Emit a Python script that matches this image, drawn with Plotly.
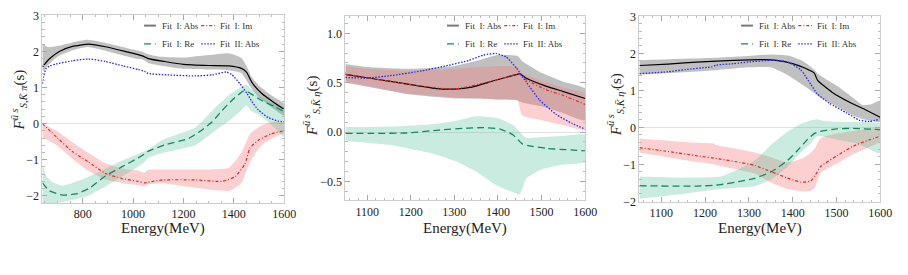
import plotly.graph_objects as go

FONT = "Liberation Serif"

# ---------------- Panel 1 : K pi ----------------
p1_abs_E = [640, 667, 707, 759, 824, 890, 968, 1040, 1060, 1125, 1200, 1300, 1380, 1430, 1451, 1471, 1510, 1562, 1600]
p1_abs = [1.57, 1.79, 2.0, 2.14, 2.2, 2.13, 2.0, 1.87, 1.80, 1.72, 1.64, 1.61, 1.60, 1.53, 1.42, 1.15, 0.84, 0.57, 0.39]
p1_absband_E = [640, 645, 660, 700, 760, 820, 900, 1000, 1040, 1060, 1100, 1200, 1300, 1380, 1430, 1450, 1470, 1500, 1550, 1600]
p1_absband_hi = [2.2, 2.2, 2.12, 2.15, 2.25, 2.32, 2.22, 2.05, 1.98, 1.92, 1.86, 1.83, 1.90, 1.95, 1.82, 1.6, 1.3, 1.05, 0.78, 0.55]
p1_absband_lo = [1.5, 1.45, 1.6, 1.85, 2.03, 2.12, 2.0, 1.82, 1.77, 1.68, 1.62, 1.52, 1.5, 1.48, 1.4, 1.2, 0.98, 0.72, 0.45, 0.22]

p1_abs2_E = [640, 645, 654, 670, 693, 759, 824, 890, 960, 1020, 1045, 1059, 1137, 1248, 1314, 1370, 1392, 1425, 1451, 1471, 1497, 1536, 1575, 1600]
p1_abs2 = [1.1, 1.3, 1.52, 1.6, 1.65, 1.74, 1.79, 1.72, 1.6, 1.5, 1.45, 1.39, 1.35, 1.32, 1.35, 1.43, 1.36, 1.1, 0.85, 0.62, 0.38, 0.17, 0.07, 0.05]

p1_re_E = [640, 667, 720, 772, 824, 890, 955, 1020, 1045, 1059, 1125, 1221, 1275, 1314, 1353, 1392, 1438, 1455, 1510, 1560, 1600]
p1_re = [-1.64, -1.86, -1.98, -1.95, -1.8, -1.45, -1.2, -0.95, -0.84, -0.77, -0.59, -0.41, -0.17, 0.05, 0.36, 0.64, 0.90, 0.88, 0.64, 0.48, 0.33]
p1_reband_E = [640, 655, 680, 720, 824, 955, 1040, 1060, 1118, 1249, 1327, 1379, 1431, 1450, 1470, 1510, 1560, 1600]
p1_reband_hi = [-1.1, -1.45, -1.62, -1.72, -1.47, -1.03, -0.78, -0.72, -0.45, -0.1, 0.45, 0.78, 1.02, 1.08, 0.95, 0.75, 0.55, 0.47]
p1_reband_lo = [-2.3, -2.28, -2.22, -2.17, -1.99, -1.47, -1.10, -0.95, -0.81, -0.59, -0.19, 0.07, 0.38, 0.5, 0.35, 0.2, -0.1, -0.37]

p1_im_E = [640, 700, 760, 820, 890, 955, 1020, 1046, 1085, 1118, 1248, 1353, 1405, 1444, 1464, 1497, 1549, 1600]
p1_im = [0.0, -0.4, -0.78, -1.05, -1.38, -1.52, -1.6, -1.64, -1.59, -1.56, -1.56, -1.60, -1.47, -1.12, -0.68, -0.46, -0.28, -0.2]
p1_imband_E = [640, 700, 760, 820, 890, 960, 1020, 1046, 1060, 1120, 1250, 1380, 1430, 1465, 1510, 1560, 1600]
p1_imband_hi = [0.0, -0.22, -0.52, -0.8, -1.1, -1.25, -1.3, -1.36, -1.28, -1.27, -1.27, -1.22, -0.8, -0.28, -0.05, 0.05, 0.0]
p1_imband_lo = [-0.38, -0.62, -0.98, -1.3, -1.55, -1.65, -1.7, -1.74, -1.68, -1.66, -1.78, -1.86, -1.65, -1.05, -0.6, -0.38, -0.25]

# ---------------- Panel 2 : K eta ----------------
p2_abs_E = [1050, 1100, 1150, 1200, 1260, 1300, 1340, 1390, 1420, 1450, 1465, 1510, 1550, 1600]
p2_abs = [0.585, 0.55, 0.515, 0.48, 0.44, 0.435, 0.455, 0.52, 0.555, 0.59, 0.545, 0.465, 0.41, 0.34]
p2_absband_E = [1050, 1100, 1200, 1300, 1350, 1400, 1445, 1455, 1500, 1550, 1600]
p2_absband_hi = [0.69, 0.66, 0.64, 0.67, 0.72, 0.78, 0.77, 0.72, 0.60, 0.51, 0.44]
p2_absband_lo = [0.50, 0.46, 0.38, 0.34, 0.34, 0.33, 0.32, 0.30, 0.26, 0.19, 0.12]

p2_abs2_E = [1050, 1098, 1151, 1226, 1280, 1333, 1367, 1395, 1419, 1442, 1465, 1495, 1533, 1571, 1600]
p2_abs2 = [0.553, 0.547, 0.57, 0.62, 0.67, 0.725, 0.78, 0.796, 0.76, 0.65, 0.505, 0.327, 0.18, 0.085, 0.03]

p2_re_E = [1050, 1114, 1190, 1265, 1333, 1367, 1405, 1435, 1456, 1472, 1510, 1600]
p2_re = [-0.013, -0.013, -0.01, 0.02, 0.04, 0.045, 0.03, -0.03, -0.12, -0.14, -0.165, -0.19]
p2_reband_E = [1050, 1150, 1250, 1300, 1350, 1400, 1435, 1450, 1465, 1500, 1550, 1600]
p2_reband_hi = [0.05, 0.055, 0.08, 0.11, 0.16, 0.14, 0.07, 0.0, -0.06, -0.05, -0.04, -0.03]
p2_reband_lo = [-0.09, -0.13, -0.22, -0.29, -0.40, -0.55, -0.61, -0.63, -0.47, -0.38, -0.33, -0.30]

p2_im_E = [1050, 1100, 1200, 1300, 1390, 1450, 1465, 1510, 1550, 1600]
p2_im = [0.585, 0.55, 0.48, 0.435, 0.52, 0.585, 0.53, 0.43, 0.37, 0.28]
p2_imband_E = [1050, 1100, 1200, 1300, 1400, 1445, 1455, 1500, 1550, 1600]
p2_imband_hi = [0.67, 0.64, 0.62, 0.64, 0.67, 0.66, 0.60, 0.52, 0.45, 0.38]
p2_imband_lo = [0.52, 0.47, 0.39, 0.35, 0.33, 0.32, 0.17, 0.12, 0.07, 0.02]

# ---------------- Panel 3 : K eta' ----------------
p3_abs_E = [1050, 1115, 1190, 1265, 1325, 1363, 1400, 1430, 1449, 1457, 1490, 1528, 1565, 1600]
p3_abs = [1.67, 1.71, 1.77, 1.81, 1.83, 1.81, 1.72, 1.59, 1.47, 1.27, 0.95, 0.69, 0.48, 0.27]
p3_absband_E = [1050, 1200, 1300, 1350, 1390, 1425, 1450, 1460, 1500, 1540, 1560, 1580, 1600]
p3_absband_hi = [1.81, 1.87, 1.93, 1.97, 1.94, 1.78, 1.55, 1.42, 1.13, 0.78, 0.6, 0.62, 0.72]
p3_absband_lo = [1.42, 1.52, 1.62, 1.62, 1.4, 1.13, 0.92, 0.82, 0.57, 0.31, 0.22, 0.18, 0.15]

p3_abs2_E = [1050, 1115, 1155, 1205, 1215, 1225, 1265, 1302, 1355, 1388, 1418, 1441, 1456, 1484, 1523, 1553, 1575, 1600]
p3_abs2 = [1.45, 1.50, 1.56, 1.62, 1.63, 1.68, 1.72, 1.77, 1.81, 1.77, 1.56, 1.17, 0.91, 0.65, 0.39, 0.19, 0.16, 0.22]

p3_re_E = [1050, 1182, 1235, 1280, 1313, 1351, 1388, 1410, 1433, 1449, 1463, 1501, 1538, 1600]
p3_re = [-1.58, -1.59, -1.55, -1.46, -1.38, -1.2, -0.9, -0.64, -0.34, -0.17, -0.11, -0.04, -0.03, -0.06]
p3_reband_E = [1050, 1150, 1235, 1280, 1313, 1351, 1388, 1418, 1440, 1455, 1470, 1500, 1550, 1600]
p3_reband_hi = [-1.33, -1.36, -1.33, -1.11, -0.90, -0.47, -0.12, 0.09, 0.18, 0.22, 0.18, 0.15, 0.14, 0.10]
p3_reband_lo = [-1.93, -1.80, -1.67, -1.63, -1.59, -1.41, -1.07, -0.68, -0.45, -0.25, -0.25, -0.33, -0.45, -0.70]

p3_im_E = [1050, 1107, 1182, 1235, 1280, 1313, 1351, 1388, 1418, 1441, 1452, 1463, 1501, 1538, 1575, 1600]
p3_im = [-0.55, -0.64, -0.77, -0.86, -0.95, -1.03, -1.2, -1.37, -1.48, -1.45, -1.29, -1.07, -0.77, -0.51, -0.34, -0.24]
p3_imband_E = [1050, 1182, 1219, 1225, 1280, 1313, 1351, 1388, 1420, 1440, 1452, 1463, 1501, 1538, 1600]
p3_imband_hi = [-0.30, -0.42, -0.44, -0.48, -0.60, -0.68, -0.81, -0.95, -0.85, -0.7, -0.55, -0.30, -0.17, -0.10, -0.04]
p3_imband_lo = [-0.68, -0.94, -1.0, -1.02, -1.16, -1.25, -1.50, -1.67, -1.73, -1.72, -1.59, -1.24, -0.98, -0.73, -0.38]

legend_labels = ["Fit  I: Abs", "Fit  I: Im", "Fit  I: Re", "Fit  II: Abs"]
y_titles = [
    "<i>F</i><sup><i>ū s</i></sup><sub><i>S</i>,<i>K̄ π</i></sub>(s)",
    "<i>F</i><sup><i>ū s</i></sup><sub><i>S</i>,<i>K̄ η</i></sub>(s)",
    "<i>F</i><sup><i>ū s</i></sup><sub><i>S</i>,<i>K̄ η′</i></sub>(s)",
]

GRAY_FILL = "rgba(140,140,140,0.55)"
RED_FILL = "rgba(245,120,120,0.35)"
GREEN_FILL = "rgba(80,190,150,0.30)"
C_BLACK = "#000000"
C_RED = "rgb(230,40,40)"
C_GREEN = "rgb(20,135,95)"
C_BLUE = "rgb(40,40,235)"
D_RE = "7px,4px"
D_IM = "3px,2px,1px,2px"
D_ABS2 = "1.5px,1.5px"

fig = go.Figure()


def band(E, lo, hi, color, xa, ya):
    fig.add_trace(go.Scatter(
        x=list(E) + list(E)[::-1], y=list(hi) + list(lo)[::-1],
        fill="toself", fillcolor=color, mode="lines",
        line=dict(width=0, shape="spline", smoothing=0.5),
        hoverinfo="skip", showlegend=False, xaxis=xa, yaxis=ya))


def curve(E, v, color, dash, width, xa, ya):
    fig.add_trace(go.Scatter(
        x=E, y=v, mode="lines",
        line=dict(color=color, dash=dash, width=width, shape="spline", smoothing=0.5),
        showlegend=False, xaxis=xa, yaxis=ya))


panels = [
    dict(xa="x", ya="y",
         absb=(p1_absband_E, p1_absband_lo, p1_absband_hi),
         imb=(p1_imband_E, p1_imband_lo, p1_imband_hi),
         reb=(p1_reband_E, p1_reband_lo, p1_reband_hi),
         abs=(p1_abs_E, p1_abs), im=(p1_im_E, p1_im), re=(p1_re_E, p1_re), abs2=(p1_abs2_E, p1_abs2)),
    dict(xa="x2", ya="y2",
         absb=(p2_absband_E, p2_absband_lo, p2_absband_hi),
         imb=(p2_imband_E, p2_imband_lo, p2_imband_hi),
         reb=(p2_reband_E, p2_reband_lo, p2_reband_hi),
         abs=(p2_abs_E, p2_abs), im=(p2_im_E, p2_im), re=(p2_re_E, p2_re), abs2=(p2_abs2_E, p2_abs2)),
    dict(xa="x3", ya="y3",
         absb=(p3_absband_E, p3_absband_lo, p3_absband_hi),
         imb=(p3_imband_E, p3_imband_lo, p3_imband_hi),
         reb=(p3_reband_E, p3_reband_lo, p3_reband_hi),
         abs=(p3_abs_E, p3_abs), im=(p3_im_E, p3_im), re=(p3_re_E, p3_re), abs2=(p3_abs2_E, p3_abs2)),
]

for p in panels:
    xa, ya = p["xa"], p["ya"]
    band(*p["absb"], GRAY_FILL, xa, ya)
    band(*p["imb"], RED_FILL, xa, ya)
    band(*p["reb"], GREEN_FILL, xa, ya)
    curve(*p["abs"], C_BLACK, "solid", 1.2, xa, ya)
    curve(*p["re"], C_GREEN, D_RE, 1.3, xa, ya)
    curve(*p["im"], C_RED, D_IM, 1.2, xa, ya)
    curve(*p["abs2"], C_BLUE, D_ABS2, 1.3, xa, ya)

W, H = 908, 275


def px_x(a, b):
    return [a / W, b / W]


def px_y(top, bottom):
    return [1 - bottom / H, 1 - top / H]


TICKFONT = dict(family=FONT, size=12, color="#222")


def xaxis(domain, rng, dtick, minor, anchor):
    return dict(domain=domain, range=rng, anchor=anchor, tickmode="linear", tick0=0, dtick=dtick,
                showline=True, linecolor="#cdcdcd", linewidth=1, mirror="ticks",
                ticks="inside", ticklen=5, tickcolor="#aaaaaa", tickwidth=1,
                minor=dict(ticks="inside", ticklen=2.5, dtick=minor, tickcolor="#bbbbbb", showgrid=False),
                showgrid=False, zeroline=False, tickfont=TICKFONT)


def yaxis(domain, rng, dtick, minor, anchor, fmt=None):
    d = dict(domain=domain, range=rng, anchor=anchor, tickmode="linear", tick0=0, dtick=dtick,
             showline=True, linecolor="#cdcdcd", linewidth=1, mirror="ticks",
             ticks="inside", ticklen=5, tickcolor="#aaaaaa", tickwidth=1,
             minor=dict(ticks="inside", ticklen=2.5, dtick=minor, tickcolor="#bbbbbb", showgrid=False),
             showgrid=False, zeroline=True, zerolinecolor="#e2e2e2", zerolinewidth=1,
             tickfont=TICKFONT)
    if fmt:
        d["tickformat"] = fmt
    return d


geo = [
    dict(x=(43, 288), y=(9, 206), xr=[640, 1600], yr=[-2.2, 3.02], xd=200, xm=50, yd=1, ym=0.2, fmt=None, ytx=19, yty=98),
    dict(x=(350, 593), y=(10, 203), xr=[1050, 1600], yr=[-0.69, 1.18], xd=100, xm=20, yd=0.5, ym=0.1, fmt=".1f", ytx=316, yty=104),
    dict(x=(648, 892), y=(10, 205), xr=[1050, 1600], yr=[-2.02, 3.02], xd=100, xm=20, yd=1, ym=0.2, fmt=None, ytx=623, yty=103),
]

layout = {}
annotations = []
shapes = []
for i, g in enumerate(geo):
    sfx = "" if i == 0 else str(i + 1)
    layout["xaxis" + sfx] = xaxis(px_x(*g["x"]), g["xr"], g["xd"], g["xm"], "y" + sfx)
    layout["yaxis" + sfx] = yaxis(px_y(*g["y"]), g["yr"], g["yd"], g["ym"], "x" + sfx, g["fmt"])
    cx = (g["x"][0] + g["x"][1]) / 2
    annotations.append(dict(text="Energy(MeV)", x=cx / W, y=1 - 233 / H, xref="paper", yref="paper",
                            showarrow=False, xanchor="center", yanchor="middle",
                            font=dict(family=FONT, size=15, color="#222")))
    annotations.append(dict(text=y_titles[i], x=g["ytx"] / W, y=1 - g["yty"] / H, xref="paper", yref="paper",
                            showarrow=False, textangle=-90, xanchor="center", yanchor="middle",
                            font=dict(family=FONT, size=15, color="#222")))
    pw = g["x"][1] - g["x"][0]
    ph = g["y"][1] - g["y"][0]
    xr_, yr_ = "x" + sfx + " domain", "y" + sfx + " domain"
    rows = [20.5 - g["y"][0], 39.5 - g["y"][0]]
    entries = [
        (0, 0, dict(color="rgb(120,120,120)", width=2, dash="solid")),
        (0, 1, dict(color=C_RED, width=1.2, dash=D_IM)),
        (1, 0, dict(color=C_GREEN, width=1.3, dash=D_RE)),
        (1, 1, dict(color=C_BLUE, width=1.3, dash=D_ABS2)),
    ]
    for k, (r, c, ln) in enumerate(entries):
        yy = 1 - rows[r] / ph
        x0 = (103 if c == 0 else 161) / pw
        x1 = (115 if c == 0 else 175) / pw
        shapes.append(dict(type="line", xref=xr_, yref=yr_, x0=x0, x1=x1, y0=yy, y1=yy, line=ln))
        annotations.append(dict(text=legend_labels[k], xref=xr_, yref=yr_,
                                x=(119 if c == 0 else 178) / pw, y=yy, showarrow=False,
                                xanchor="left", yanchor="middle",
                                font=dict(family=FONT, size=9, color="#333")))

fig.update_layout(**layout)
fig.update_layout(width=W, height=H, margin=dict(l=0, r=0, t=0, b=0),
                  paper_bgcolor="white", plot_bgcolor="white",
                  font=dict(family=FONT, color="#222"),
                  annotations=annotations, shapes=shapes, showlegend=False)
fig.write_html("out.html")
